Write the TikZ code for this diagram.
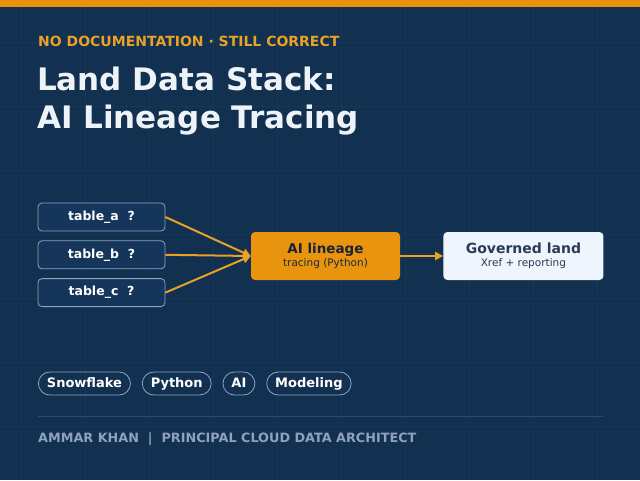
\documentclass[tikz,border=0pt]{standalone}
\usepackage{fontspec}
\setmainfont{DejaVu Sans}
\usepackage{tikz}
\usetikzlibrary{arrows.meta, positioning}
\definecolor{navybg}{HTML}{12304F}
\definecolor{gridline}{HTML}{16365A}
\definecolor{accent}{HTML}{E8940F}
\definecolor{accentlight}{HTML}{E9A128}
\definecolor{titlewhite}{HTML}{EEF3F8}
\definecolor{boxedge}{HTML}{8AA6C6}
\definecolor{boxfill}{HTML}{15355A}
\definecolor{paleblue}{HTML}{EEF5FC}
\definecolor{darkslate}{HTML}{2A3A55}
\definecolor{footgray}{HTML}{8DA2BE}
\definecolor{rulegray}{HTML}{2A4A6E}
\tikzset{
  tablebox/.style={draw=boxedge, line width=0.8pt, fill=boxfill, rounded corners=4pt,
                   minimum width=127pt, minimum height=28pt, inner sep=0pt,
                   text=white, font=\fontsize{12.5}{14}\selectfont\bfseries},
  stagebox/.style={rounded corners=4pt, minimum width=149pt, minimum height=48pt,
                   inner sep=0pt, align=center},
  pill/.style={draw=boxedge, line width=0.8pt, rounded corners=11.5pt, minimum height=23pt,
               inner xsep=8.5pt, inner ysep=0pt, text height=9.5pt, text depth=2.5pt,
               text=white, font=\fontsize{13}{15}\selectfont\bfseries},
  flowarrow/.style={-{Triangle[length=8pt, width=8pt]}, line width=2pt, accentlight},
}

\begin{document}
\begin{tikzpicture}[x=1pt, y=-1pt, node distance=9pt]
\useasboundingbox (0,0) rectangle (640,480);

% Background and faint grid
\fill[navybg] (0,0) rectangle (640,480);
\foreach \gx in {21,85,...,640} \draw[gridline, line width=1pt] (\gx,7) -- (\gx,480);
\foreach \gy in {42,106,...,480} \draw[gridline, line width=1pt] (0,\gy) -- (640,\gy);
\fill[accent] (0,0) rectangle (640,7);

% Heading
\node[anchor=base west, inner sep=0pt, text=accentlight, font=\fontsize{14}{16}\selectfont\bfseries]
  (kicker) at (38,46) {NO DOCUMENTATION · STILL CORRECT};
\node[anchor=base west, inner sep=0pt, text=titlewhite, font=\fontsize{31}{36}\selectfont\bfseries]
  (title1) at (37,90) {Land Data Stack:};
\node[anchor=base west, inner sep=0pt, text=titlewhite, font=\fontsize{31}{36}\selectfont\bfseries]
  (title2) at (37,128) {AI Lineage Tracing};

% Source tables
\node[tablebox] (tabA) at (101.5,217) {table\_a\ \ ?};
\node[tablebox, below=of tabA] (tabB) {table\_b\ \ ?};
\node[tablebox, below=of tabB] (tabC) {table\_c\ \ ?};

% Stages
\node[stagebox, fill=accent] (lineage) at (325.5,256)
  {{\fontsize{13.5}{16}\selectfont\bfseries\color{darkslate!60!black}AI lineage}\\[1pt]
   {\fontsize{10.5}{12}\selectfont\color{darkslate!70!black}tracing (Python)}};
\node[stagebox, fill=paleblue, minimum width=160pt, right=43pt of lineage] (governed)
  {{\fontsize{14}{16}\selectfont\bfseries\color{darkslate}Governed land}\\[1pt]
   {\fontsize{10.5}{12}\selectfont\color{darkslate}Xref + reporting}};

% Arrows
\draw[flowarrow] (tabA.east) -- (lineage.west);
\draw[flowarrow] (tabB.east) -- (lineage.west);
\draw[flowarrow] (tabC.east) -- (lineage.west);
\draw[flowarrow] (lineage) -- (governed);

% Tags
\node[pill, anchor=west] (snow) at (38,383.5) {Snowflake};
\node[pill, right=11pt of snow] (python) {Python};
\node[pill, right=11pt of python] (ai) {AI};
\node[pill, right=11pt of ai] (model) {Modeling};

% Footer
\coordinate (ruleL) at (38,416);
\coordinate (ruleR) at (603,416);
\draw[rulegray, line width=0.8pt] (ruleL) -- (ruleR);
\node[anchor=base west, inner sep=0pt, text=footgray, font=\fontsize{12.8}{14}\selectfont\bfseries]
  (byline) at (38,442) {AMMAR KHAN\ \ |\ \ PRINCIPAL CLOUD DATA ARCHITECT};

\end{tikzpicture}
\end{document}
